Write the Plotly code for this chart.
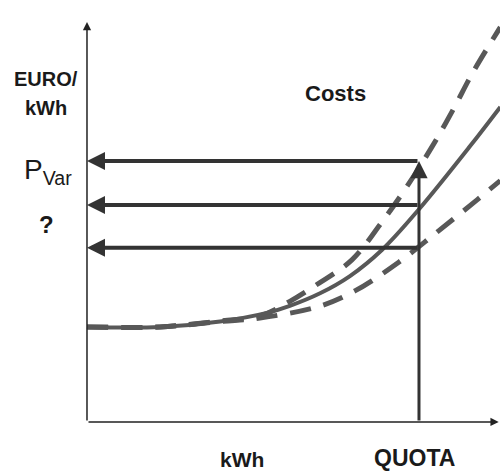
import plotly.graph_objects as go

# ── data (x: kWh units with QUOTA = 10, y: price units) ──
cost_x = [0.0, 2.2, 4.01, 5.42, 6.11, 7.02, 7.92, 8.89, 10.0, 11.54, 12.45]
cost_y = [3.64, 3.64, 3.85, 4.18, 4.45, 4.93, 5.59, 6.6, 8.15, 10.57, 12.07]

high_x = [0.0, 2.2, 4.01, 5.21, 6.11, 6.87, 7.98, 8.86, 9.61, 10.39, 11.02, 11.63, 12.45]
high_y = [3.64, 3.64, 3.87, 4.06, 4.62, 5.22, 6.21, 7.62, 8.97, 10.54, 11.95, 13.41, 15.13]

low_x = [0.0, 2.2, 4.01, 5.21, 7.02, 8.07, 9.4, 10.51, 11.75, 12.45]
low_y = [3.64, 3.64, 3.85, 3.98, 4.44, 5.02, 6.13, 7.24, 8.51, 9.25]

quota_x = 10.0
price_levels = [10.0, 8.31, 6.67]   # P_Var, ? , lower
axis_top = 15.33
axis_right = 12.4

X_RANGE = [-2.62, 12.44]
Y_RANGE = [-1.92, 16.17]

CURVE = "#585858"
ARROW = "#333333"
TEXT = "#1a1a1a"

fig = go.Figure()

# ── 1) cost curves ─────────────────────────────────────────────────
for xs, ys in [(high_x, high_y), (low_x, low_y)]:
    fig.add_trace(go.Scatter(
        x=xs, y=ys, mode="lines", line_shape="spline",
        line=dict(color=CURVE, width=5, dash="21px,13px"),
        hoverinfo="skip", showlegend=False,
    ))
fig.add_trace(go.Scatter(
    x=cost_x, y=cost_y, mode="lines", line_shape="spline",
    line=dict(color=CURVE, width=4),
    hoverinfo="skip", showlegend=False,
))

# ── 2) arrows ──────────────────────────────────────────────────────
arrows = []
# axes
arrows.append(dict(x=0, y=axis_top, ax=0, ay=0, arrowwidth=1.5, arrowsize=1.1, arrowcolor="#222222"))
arrows.append(dict(x=axis_right, y=0, ax=0, ay=0, arrowwidth=1.5, arrowsize=1.1, arrowcolor="#222222"))
# quota vertical
arrows.append(dict(x=quota_x, y=price_levels[0], ax=quota_x, ay=0, arrowwidth=3, arrowsize=1.15, arrowcolor=ARROW))
# price levels back to the y-axis
for lvl in price_levels:
    arrows.append(dict(x=0, y=lvl, ax=quota_x, ay=lvl, arrowwidth=4, arrowsize=0.9, arrowcolor=ARROW))

for a in arrows:
    fig.add_annotation(
        text="", showarrow=True, xref="x", yref="y", axref="x", ayref="y",
        arrowhead=2, standoff=0, startstandoff=0, **a,
    )

# ── 3) labels ──────────────────────────────────────────────────────
W, H = 500, 472
labels = [
    ("<b>EURO/</b>", 46, 79, 20),
    ("<b>kWh</b>", 46, 108, 20),
    ("<b>Costs</b>", 335, 93, 22),
    ("P<sub>Var</sub>", 48, 172, 28),
    ("<b>?</b>", 46, 224, 24),
    ("<b>kWh</b>", 242, 459, 21),
    ("<b>QUOTA</b>", 414, 458, 23),
]
for txt, px, py, size in labels:
    fig.add_annotation(
        text=txt, x=px / W, y=1 - py / H, xref="paper", yref="paper",
        showarrow=False, xanchor="center", yanchor="middle",
        font=dict(family="Liberation Sans, Arial", size=size, color=TEXT),
    )

fig.update_layout(
    width=W, height=H,
    margin=dict(l=0, r=0, t=0, b=0),
    paper_bgcolor="white", plot_bgcolor="white",
    xaxis=dict(range=X_RANGE, visible=False, fixedrange=True),
    yaxis=dict(range=Y_RANGE, visible=False, fixedrange=True),
    showlegend=False,
)

# the page's default body margin would shift the figure by 8px
fig.write_html("out.html", config={"displayModeBar": False},
               post_script="document.body.style.margin='0';")
